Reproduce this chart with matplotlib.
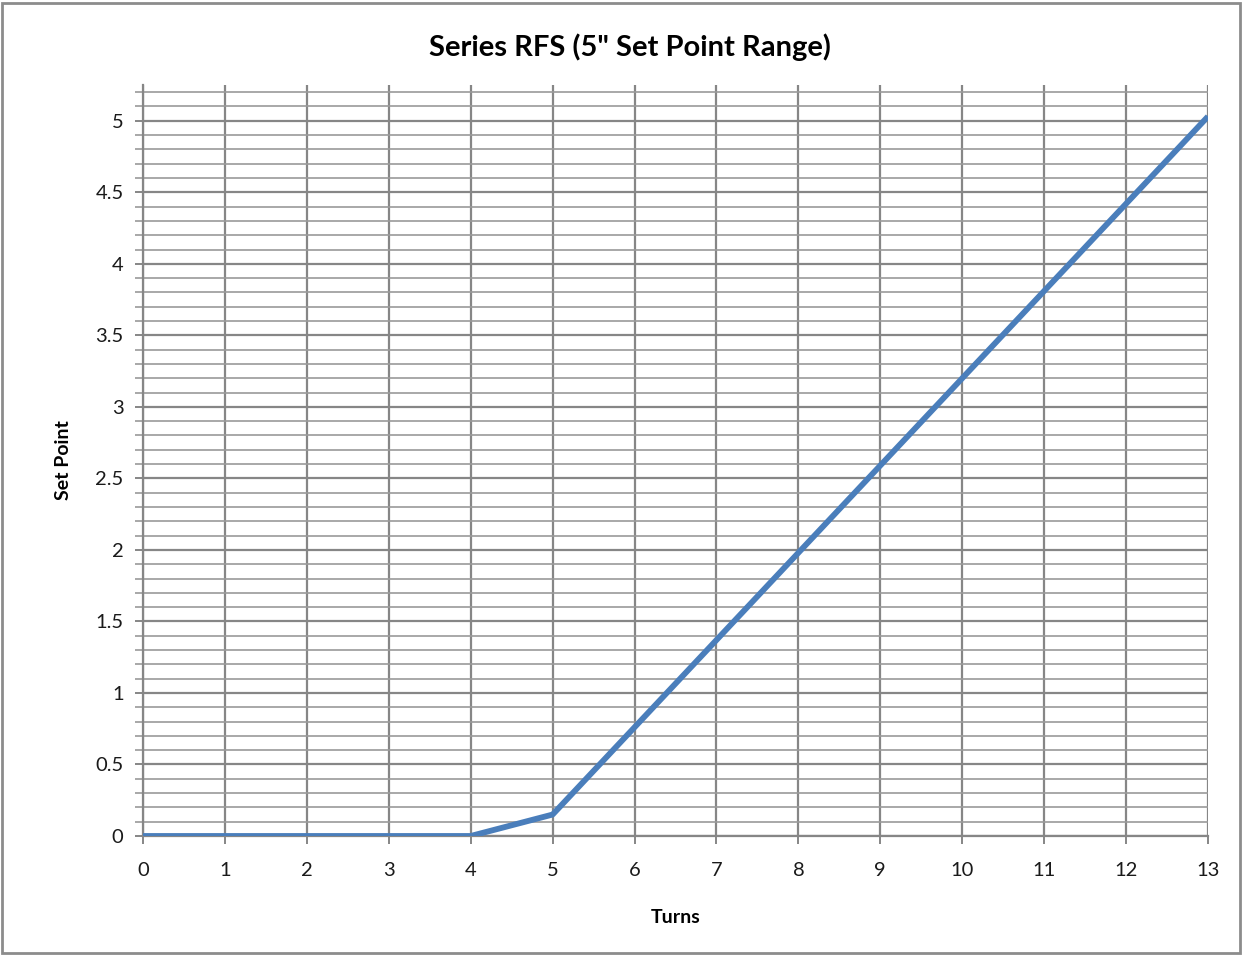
import matplotlib
matplotlib.use("Agg")
import matplotlib.pyplot as plt
from matplotlib.ticker import MultipleLocator
from matplotlib.patches import Rectangle

turns = [0, 1, 2, 3, 4, 5, 6, 7, 8, 9, 10, 11, 12, 13]
set_point = [0, 0, 0, 0, 0, 0.15, 0.76, 1.37, 1.98, 2.59, 3.2, 3.81, 4.42, 5.03]
x_ticks = list(range(0, 14))
y_ticks = [0, 0.5, 1, 1.5, 2, 2.5, 3, 3.5, 4, 4.5, 5]
y_tick_labels = ["0", "0.5", "1", "1.5", "2", "2.5", "3", "3.5", "4", "4.5", "5"]

plt.rcParams['font.family'] = ['Lato', 'DejaVu Sans']

fig = plt.figure(figsize=(12.42, 9.55), dpi=100)
ax = fig.add_axes([143/1242, (955-836)/955, (1208-143)/1242, (836-85)/955])

fig.patches.append(Rectangle((0.002, 0.002), 0.996, 0.995, transform=fig.transFigure,
                             fill=False, edgecolor='#8c8c8c', linewidth=2))

ax.plot(turns, set_point, color='#4a7ebb', linewidth=4.2, solid_capstyle='butt', zorder=3)

ax.set_xlim(0, 13)
ax.set_ylim(0, 5.25)
ax.set_xticks(x_ticks)
ax.set_yticks(y_ticks)
ax.set_yticklabels(y_tick_labels)
ax.yaxis.set_minor_locator(MultipleLocator(0.1))

ax.grid(True, which='major', axis='both', color='#868686', linewidth=1.6)
ax.grid(True, which='minor', axis='y', color='#9a9a9a', linewidth=1.2)
ax.set_axisbelow(True)

for s in ['top', 'right']:
    ax.spines[s].set_visible(False)
ax.spines['left'].set_color('#868686')
ax.spines['left'].set_linewidth(1.6)
ax.spines['bottom'].set_color('#868686')
ax.spines['bottom'].set_linewidth(1.6)

ax.tick_params(axis='both', which='major', direction='out', length=6, width=1.4,
               color='#868686', labelsize=14.5, labelcolor='#1a1a1a')
ax.tick_params(axis='y', which='minor', direction='out', length=6, width=1.2, color='#9a9a9a')
ax.tick_params(axis='x', pad=13)
ax.tick_params(axis='y', pad=8)

fig.text(630/1242, 1 - 47/955, 'Series RFS (5" Set Point Range)', fontsize=21,
         fontweight='bold', ha='center', va='center')
ax.set_xlabel('Turns', fontsize=14, fontweight='bold', labelpad=21)
ax.set_ylabel('Set Point', fontsize=14, fontweight='bold', labelpad=17)

fig.savefig('out.png', dpi=100, facecolor='white')
